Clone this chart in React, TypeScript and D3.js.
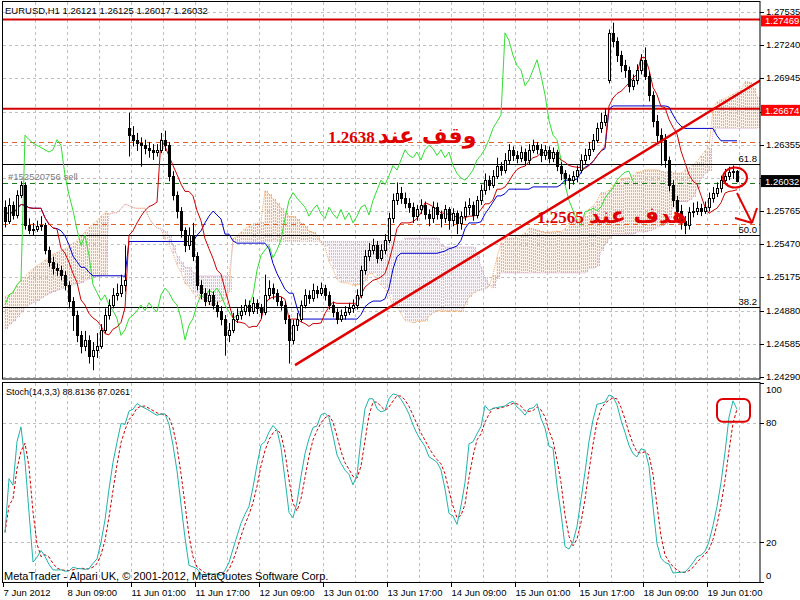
import { useMemo } from 'react';
import * as d3 from 'd3';

// EURUSD H1, prices stored as price x 10000
const FIRST_OPEN = 12580;
const GAP_OPENS: [number, number][] = [[31, 12650], [151, 12693]];

const CLOSE = [
  12568, 12582, 12573, 12591, 12600, 12564, 12560, 12561, 12563, 12564,
  12542, 12531, 12526, 12524, 12520, 12511, 12497, 12484, 12466, 12457,
  12462, 12448, 12453, 12457, 12471, 12484, 12493, 12502, 12504, 12511,
  12515, 12644, 12640, 12637, 12635, 12633, 12631, 12629, 12631, 12640,
  12635, 12608, 12591, 12577, 12560, 12546, 12555, 12537, 12511, 12504,
  12497, 12502, 12493, 12488, 12481, 12466, 12471, 12481, 12484, 12488,
  12493, 12488, 12495, 12490, 12487, 12502, 12508, 12504, 12497, 12493,
  12481, 12462, 12475, 12481, 12493, 12502, 12499, 12506, 12504, 12508,
  12502, 12493, 12487, 12481, 12484, 12487, 12490, 12493, 12502, 12524,
  12537, 12542, 12546, 12535, 12542, 12551, 12570, 12586, 12593, 12588,
  12584, 12580, 12572, 12578, 12582, 12574, 12570, 12580, 12574, 12570,
  12578, 12569, 12575, 12566, 12572, 12580, 12582, 12573, 12586, 12595,
  12604, 12600, 12608, 12617, 12613, 12622, 12631, 12626, 12624, 12629,
  12622, 12631, 12635, 12632, 12626, 12631, 12624, 12629, 12617, 12610,
  12606, 12604, 12608, 12613, 12622, 12626, 12632, 12640, 12650, 12656,
  12662, 12735, 12728, 12715, 12706, 12702, 12688, 12693, 12702, 12711,
  12697, 12680, 12657, 12644, 12640, 12622, 12600, 12586, 12577, 12568,
  12564, 12576, 12577, 12579, 12577, 12580, 12588, 12593, 12597, 12604,
  12608, 12611, 12612, 12603,
];

const HIGH = [
  12586, 12588, 12585, 12595, 12603, 12602, 12570, 12566, 12568, 12572,
  12566, 12545, 12536, 12530, 12528, 12523, 12514, 12500, 12488, 12470,
  12470, 12466, 12460, 12468, 12476, 12490, 12498, 12508, 12512, 12520,
  12546, 12664, 12652, 12646, 12642, 12640, 12638, 12636, 12636, 12646,
  12648, 12638, 12612, 12594, 12580, 12562, 12562, 12566, 12540, 12515,
  12508, 12507, 12505, 12496, 12492, 12484, 12477, 12486, 12490, 12493,
  12498, 12497, 12500, 12498, 12494, 12520, 12515, 12512, 12507, 12500,
  12496, 12484, 12480, 12486, 12497, 12507, 12506, 12512, 12510, 12513,
  12511, 12505, 12496, 12490, 12489, 12492, 12495, 12498, 12507, 12528,
  12542, 12548, 12552, 12550, 12547, 12556, 12575, 12592, 12602, 12598,
  12593, 12588, 12584, 12582, 12587, 12585, 12578, 12585, 12584, 12577,
  12582, 12580, 12579, 12577, 12576, 12585, 12588, 12585, 12590, 12600,
  12610, 12608, 12613, 12624, 12620, 12628, 12636, 12634, 12630, 12634,
  12632, 12636, 12640, 12638, 12636, 12635, 12634, 12633, 12631, 12620,
  12613, 12609, 12612, 12617, 12627, 12632, 12638, 12645, 12655, 12664,
  12668, 12738, 12744, 12731, 12719, 12711, 12705, 12698, 12707, 12716,
  12722, 12700, 12683, 12662, 12650, 12645, 12625, 12604, 12590, 12582,
  12572, 12580, 12584, 12585, 12583, 12585, 12593, 12598, 12602, 12608,
  12614, 12616, 12617, 12613,
];

const LOW = [
  12562, 12565, 12569, 12570, 12588, 12560, 12556, 12555, 12558, 12559,
  12538, 12527, 12520, 12519, 12515, 12506, 12490, 12470, 12460, 12450,
  12452, 12441, 12435, 12446, 12454, 12468, 12480, 12490, 12497, 12500,
  12505, 12625, 12634, 12630, 12616, 12627, 12624, 12622, 12625, 12628,
  12630, 12603, 12586, 12570, 12553, 12540, 12542, 12532, 12506, 12498,
  12492, 12493, 12489, 12482, 12475, 12448, 12460, 12468, 12477, 12480,
  12484, 12483, 12485, 12485, 12481, 12484, 12498, 12498, 12492, 12488,
  12476, 12441, 12458, 12470, 12478, 12490, 12494, 12496, 12499, 12501,
  12497, 12489, 12482, 12476, 12478, 12480, 12484, 12486, 12489, 12499,
  12520, 12532, 12538, 12530, 12532, 12538, 12548, 12566, 12582, 12583,
  12579, 12575, 12566, 12568, 12574, 12569, 12563, 12566, 12569, 12562,
  12566, 12560, 12563, 12556, 12560, 12568, 12573, 12568, 12570, 12582,
  12591, 12595, 12597, 12605, 12608, 12610, 12618, 12621, 12619, 12620,
  12617, 12618, 12628, 12627, 12620, 12622, 12619, 12620, 12612, 12604,
  12600, 12596, 12600, 12602, 12610, 12618, 12622, 12629, 12637, 12646,
  12652, 12690, 12722, 12709, 12700, 12695, 12682, 12684, 12689, 12698,
  12693, 12674, 12651, 12638, 12617, 12615, 12594, 12580, 12568, 12560,
  12556, 12560, 12571, 12573, 12572, 12574, 12576, 12584, 12589, 12593,
  12601, 12604, 12605, 12602,
];

// cloud edges for the first 26 bars (they come from bars before the chart)
const CLOUD_LEAD_A = [
  12500, 12502, 12505, 12510, 12515, 12518, 12522, 12525, 12528, 12530,
  12533, 12535, 12538, 12540, 12542, 12543, 12545, 12548, 12550, 12554,
  12558, 12562, 12565, 12568, 12572, 12575,
];
const CLOUD_LEAD_B = [
  12472, 12475, 12478, 12482, 12486, 12490, 12493, 12495, 12497, 12499,
  12501, 12503, 12505, 12506, 12507, 12508, 12510, 12511, 12512, 12513,
  12515, 12516, 12517, 12518, 12519, 12520,
];

const PRICE_TICKS = [1.27535, 1.2724, 1.26945, 1.2665, 1.26355, 1.2606, 1.25765, 1.2547, 1.25175, 1.2488, 1.24585, 1.2429];
const HIDDEN_TICK_LABELS = [1.2665, 1.2606];
const TIME_LABELS = [
  '7 Jun 2012', '8 Jun 09:00', '11 Jun 01:00', '11 Jun 17:00', '12 Jun 09:00', '13 Jun 01:00',
  '13 Jun 17:00', '14 Jun 09:00', '15 Jun 01:00', '15 Jun 17:00', '18 Jun 09:00', '19 Jun 01:00',
];
const STOCH_TICKS = [100, 80, 20, 0];
const STOCH_GRID = [80, 20];
const RED_LEVELS = [1.27469, 1.26674];
const FIB_LEVELS: [string, number][] = [['61.8', 1.26184], ['50.0', 1.25548], ['38.2', 1.24912]];
const STOP_LOSS = 1.2638;
const TAKE_PROFIT = 1.2565;
const ORDER_OPEN = 1.26015;
const LAST_PRICE = 1.26032;
const TREND: [number, number][] = [[72.5, 1.24395], [183, 1.268]];

const FONT = '"Liberation Sans", Arial, sans-serif';
const SPAN_A_COLOR = '#f4a460';
const SPAN_B_COLOR = '#d8b0d0';

function mid(i: number, len: number) {
  const from = Math.max(0, i - len + 1);
  let hi = -Infinity, lo = Infinity;
  for (let k = from; k <= i; k++) { hi = Math.max(hi, HIGH[k]); lo = Math.min(lo, LOW[k]); }
  return (hi + lo) / 2;
}

export default function App() {
  const n = CLOSE.length;
  const x = d3.scaleLinear().domain([0, 183]).range([5, 737]);
  const y = d3.scaleLinear().domain([1.2429, 1.27535]).range([377, 12]);
  const ys = d3.scaleLinear().domain([0, 100]).range([582.3, 383]);

  const data = useMemo(() => {
    const open = CLOSE.map((_, i) => (i === 0 ? FIRST_OPEN : CLOSE[i - 1]));
    GAP_OPENS.forEach(([i, v]) => { open[i] = v; });
    const tenkan = CLOSE.map((_, i) => mid(i, 9));
    const kijun = CLOSE.map((_, i) => mid(i, 26));
    const spanA: number[] = [];
    const spanB: number[] = [];
    for (let j = 0; j < n + 26; j++) {
      if (j < 26) { spanA.push(CLOUD_LEAD_A[j]); spanB.push(CLOUD_LEAD_B[j]); }
      else { spanA.push((tenkan[j - 26] + kijun[j - 26]) / 2); spanB.push(mid(j - 26, 52)); }
    }
    const chikou = CLOSE.slice(26);
    // Stochastic 14,3,3
    const num: number[] = [], den: number[] = [];
    CLOSE.forEach((c, i) => {
      let hi = -Infinity, lo = Infinity;
      for (let k = Math.max(0, i - 13); k <= i; k++) { hi = Math.max(hi, HIGH[k]); lo = Math.min(lo, LOW[k]); }
      num.push(c - lo); den.push(hi - lo);
    });
    const main = CLOSE.map((_, i) => {
      let a = 0, b = 0;
      for (let k = Math.max(0, i - 2); k <= i; k++) { a += num[k]; b += den[k]; }
      return b === 0 ? 50 : (a / b) * 100;
    });
    const signal = main.map((_, i) => d3.mean(main.slice(Math.max(0, i - 2), i + 1))!);
    return { open, tenkan, kijun, spanA, spanB, chikou, main, signal };
  }, [n]);

  const p = (v: number) => y(v / 10000);
  const line = d3.line<number>().x((_, i) => x(i)).y((v) => p(v));
  const sline = d3.line<number>().x((_, i) => x(i)).y((v) => ys(v));
  const lastCloud = Math.floor(x.invert(757));

  const tSlope = (TREND[1][1] - TREND[0][1]) / (TREND[1][0] - TREND[0][0]);
  const tEnd = x.invert(762);
  const pxY = (yy: number) => y.invert(yy);

  return (
    <svg width={800} height={600} style={{ position: 'absolute', left: 0, top: 0, background: '#fff' }}
      fontFamily={FONT}>
      <defs>
        <clipPath id="mainClip"><rect x={3} y={2} width={757} height={377} /></clipPath>
        <clipPath id="stochClip"><rect x={3} y={383} width={757} height={199} /></clipPath>
      </defs>
      <rect x={0} y={0} width={800} height={600} fill="#fff" />

      {/* grid */}
      {d3.range(8, 190, 8).map((b) => (
        <g key={'vg' + b}>
          <line x1={x(b) - 1.5} x2={x(b) - 1.5} y1={2} y2={379} stroke="#c0c0c0" strokeDasharray="3,3" />
          <line x1={x(b) - 1.5} x2={x(b) - 1.5} y1={383} y2={582} stroke="#c0c0c0" strokeDasharray="3,3" />
        </g>
      ))}
      {PRICE_TICKS.map((t) => (
        <line key={'hg' + t} x1={3} x2={760} y1={Math.round(y(t)) + 0.5} y2={Math.round(y(t)) + 0.5}
          stroke="#c0c0c0" strokeDasharray="3,3" />
      ))}
      {STOCH_GRID.map((t) => (
        <line key={'sg' + t} x1={3} x2={760} y1={Math.round(ys(t)) + 0.5} y2={Math.round(ys(t)) + 0.5}
          stroke="#c0c0c0" strokeDasharray="3,3" />
      ))}

      <g clipPath="url(#mainClip)">
        {/* Ichimoku cloud: light tint plus dotted hatch */}
        {data.spanA.slice(0, lastCloud + 1).map((a, j) => {
          const b = data.spanB[j];
          const col = a >= b ? SPAN_A_COLOR : SPAN_B_COLOR;
          const xx = Math.round(x(j));
          const y1 = Math.round(Math.min(p(a), p(b)));
          const y2 = Math.round(Math.max(p(a), p(b)));
          return (
            <g key={'c' + j} shapeRendering="crispEdges">
              <rect x={xx - 1} y={y1} width={4} height={y2 - y1} fill={col} fillOpacity={0.14} />
              <g stroke={col} strokeDasharray="2,1" strokeOpacity={0.85}>
                <line x1={xx + 0.5} x2={xx + 0.5} y1={y1} y2={y2} />
                <line x1={xx + 2.5} x2={xx + 2.5} y1={y1} y2={y2} />
              </g>
            </g>
          );
        })}
        <path d={line(data.spanA.slice(0, lastCloud + 1))!} fill="none" stroke={SPAN_A_COLOR} strokeDasharray="1,1" />
        <path d={line(data.spanB.slice(0, lastCloud + 1))!} fill="none" stroke={SPAN_B_COLOR} strokeDasharray="1,1" />

        {/* Fibo levels */}
        {FIB_LEVELS.map(([lab, v]) => (
          <g key={lab}>
            <line x1={3} x2={760} y1={Math.round(y(v)) + 0.5} y2={Math.round(y(v)) + 0.5} stroke="#000" />
            <text x={757} y={Math.round(y(v)) - 2} fontSize={9.5} textAnchor="end" fill="#000">{lab}</text>
          </g>
        ))}

        {/* order lines */}
        {[STOP_LOSS, TAKE_PROFIT].map((v) => (
          <line key={'sl' + v} x1={3} x2={760} y1={Math.round(y(v)) + 0.5} y2={Math.round(y(v)) + 0.5}
            stroke="#e0602a" strokeDasharray="5,4" />
        ))}
        <line x1={3} x2={760} y1={Math.round(y(ORDER_OPEN)) + 0.5} y2={Math.round(y(ORDER_OPEN)) + 0.5}
          stroke="#1f7a1f" strokeDasharray="5,4" />
        <text x={8} y={Math.round(y(ORDER_OPEN)) - 3} fontSize={9.5} fill="#808080">#152520756 sell</text>

        {/* red levels */}
        {RED_LEVELS.map((v) => (
          <line key={'rl' + v} x1={3} x2={760} y1={y(v)} y2={y(v)} stroke="#d40000" strokeWidth={2} />
        ))}

        {/* Ichimoku lines */}
        <path d={line(data.chikou)!} fill="none" stroke="#33dd33" strokeWidth={1} />
        <path d={line(data.kijun)!} fill="none" stroke="#0000cc" strokeWidth={1} />
        <path d={line(data.tenkan)!} fill="none" stroke="#cc0000" strokeWidth={1} />

        {/* candles */}
        {CLOSE.map((c, i) => {
          const o = data.open[i];
          const cx = Math.round(x(i));
          const top = Math.round(p(Math.max(o, c)));
          const bot = Math.round(p(Math.min(o, c)));
          const bull = c >= o;
          return (
            <g key={'k' + i}>
              <line x1={cx + 0.5} x2={cx + 0.5} y1={p(HIGH[i])} y2={p(LOW[i])} stroke="#000" />
              <rect x={cx - 0.5} y={top + 0.5} width={2} height={Math.max(bot - top, 0)}
                fill={bull ? '#fff' : '#000'} stroke="#000" />
            </g>
          );
        })}

        {/* trend line */}
        <line x1={x(TREND[0][0])} y1={y(TREND[0][1])} x2={x(tEnd)}
          y2={y(TREND[0][1] + tSlope * (tEnd - TREND[0][0]))} stroke="#e00000" strokeWidth={2.5} />

        {/* annotations */}
        <text x={328} y={143} fontFamily='"Liberation Serif", "Times New Roman", serif' fontWeight="bold"
          fontSize={17} fill="#e00000">1.2638</text>
        <text x={427} y={143} fontFamily='"DejaVu Sans", sans-serif' fontWeight="bold" fontSize={22}
          fill="#e00000" textAnchor="middle">وقف عند</text>
        <text x={537} y={223} fontFamily='"Liberation Serif", "Times New Roman", serif' fontWeight="bold"
          fontSize={17} fill="#e00000">1.2565</text>
        <text x={638} y={223} fontFamily='"DejaVu Sans", sans-serif' fontWeight="bold" fontSize={22}
          fill="#e00000" textAnchor="middle">هدف عند</text>

        <ellipse cx={x(182.5)} cy={y(1.26063)} rx={12} ry={10} fill="none" stroke="#e00000" strokeWidth={2} />
        <g stroke="#e00000" strokeWidth={2} fill="none">
          <line x1={x(183)} y1={y(pxY(193))} x2={x(186.75)} y2={y(pxY(223))} />
          <line x1={x(182.5)} y1={y(pxY(218))} x2={x(186.75)} y2={y(pxY(223))} />
          <line x1={x(188)} y1={y(pxY(208))} x2={x(186.75)} y2={y(pxY(223))} />
        </g>
      </g>

      {/* stochastic */}
      <g clipPath="url(#stochClip)">
        <path d={sline(data.signal)!} fill="none" stroke="#cc0000" strokeDasharray="3,2" />
        <path d={sline(data.main)!} fill="none" stroke="#20b2aa" />
        <rect x={x(178)} y={ys(92)} width={x(186.25) - x(178)} height={ys(80.5) - ys(92)} rx={6}
          fill="none" stroke="#e00000" strokeWidth={2} />
      </g>

      {/* frames */}
      <rect x={2.5} y={1.5} width={757.5} height={377.5} fill="none" stroke="#000" />
      <rect x={2.5} y={382.5} width={757.5} height={200} fill="none" stroke="#000" />

      {/* price axis */}
      {PRICE_TICKS.map((t) => {
        const yy = Math.round(y(t)) + 0.5;
        return (
          <g key={'pt' + t}>
            <line x1={760} x2={764} y1={yy} y2={yy} stroke="#000" />
            {!HIDDEN_TICK_LABELS.includes(t) && (
              <text x={766} y={yy + 2} fontSize={9.5} fill="#000">{t.toFixed(5)}</text>
            )}
          </g>
        );
      })}
      {RED_LEVELS.map((v) => (
        <g key={'rb' + v}>
          <rect x={761} y={y(v) - 4} width={39} height={11} fill="#ff0000" />
          <text x={765} y={y(v) + 5} fontSize={9.5} fill="#fff">{v.toFixed(5)}</text>
        </g>
      ))}
      <rect x={761} y={y(LAST_PRICE) - 6} width={39} height={12} fill="#000" />
      <text x={765} y={y(LAST_PRICE) + 3.5} fontSize={9.5} fill="#fff">{LAST_PRICE.toFixed(5)}</text>

      {/* stoch axis */}
      {STOCH_TICKS.map((t) => {
        const yy = Math.min(Math.max(ys(t), 389), 575);
        return (
          <g key={'st' + t}>
            <line x1={760} x2={764} y1={Math.round(ys(t)) + 0.5} y2={Math.round(ys(t)) + 0.5} stroke="#000" />
            <text x={766} y={yy + 3.5} fontSize={9.5} fill="#000">{t}</text>
          </g>
        );
      })}

      {/* time axis */}
      {TIME_LABELS.map((lab, k) => {
        const xx = Math.round(x(k * 16)) - 1.5;
        return (
          <g key={lab}>
            <line x1={xx} x2={xx} y1={583} y2={587} stroke="#000" />
            <text x={xx} y={596} fontSize={9.5} fill="#000">{lab}</text>
          </g>
        );
      })}

      {/* headers */}
      <text x={5} y={14} fontSize={9.5} fill="#000">EURUSD,H1  1.26121 1.26125 1.26017 1.26032</text>
      <text x={6} y={395} fontSize={9} fill="#000">Stoch(14,3,3) 88.8136 87.0261</text>
      <text x={4} y={580} fontSize={11} fill="#000">MetaTrader - Alpari UK, © 2001-2012, MetaQuotes Software Corp.</text>
    </svg>
  );
}
